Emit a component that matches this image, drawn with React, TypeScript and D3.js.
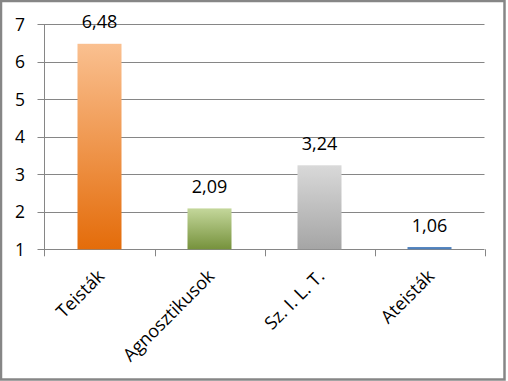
import React from "react";
import * as d3 from "d3";

const categories = ["Teisták", "Agnosztikusok", "Sz. I. L. T.", "Ateisták"];
const values = [6.48, 2.09, 3.24, 1.06];
const valueLabels = ["6,48", "2,09", "3,24", "1,06"];
const yTicks = [1, 2, 3, 4, 5, 6, 7];
const gradients = [
  ["#FAC090", "#E46C0A"],
  ["#C4D79B", "#76923C"],
  ["#D9D9D9", "#A5A5A5"],
  ["#4F81BD", "#4F81BD"],
];

const W = 508;
const H = 381;
const FONT = "'Open Sans', 'Noto Sans', sans-serif";

export default function App() {
  const left = 44.5;
  const right = 484.5;
  const top = 24.3;
  const bottom = 249.3;
  const x = d3.scaleBand<string>().domain(categories).range([left, right]).paddingInner(0.6).paddingOuter(0.3);
  const xb = d3.scaleBand<string>().domain(categories).range([left, right]);
  const y = d3.scaleLinear().domain([1, 7]).range([bottom, top]);

  return (
    <svg width={W} height={H} style={{ position: "absolute", left: 0, top: 0 }} fontFamily={FONT}>
      <defs>
        {gradients.map((g, i) => (
          <linearGradient key={i} id={`g${i}`} x1="0" y1="0" x2="0" y2="1">
            <stop offset="0%" stopColor={g[0]} />
            <stop offset="100%" stopColor={g[1]} />
          </linearGradient>
        ))}
      </defs>
      <rect x={0} y={0} width={W} height={H} fill="#fff" />
      <rect x={1} y={1} width={503.5} height={378.5} fill="none" stroke="#868686" strokeWidth={2.5} />
      {yTicks.map((t) => (
        <g key={t}>
          <line x1={left - 7} x2={right} y1={Math.round(y(t)) + 0.5} y2={Math.round(y(t)) + 0.5} stroke="#868686" strokeWidth={1} />
          <text x={25} y={y(t)} dy="0.36em" textAnchor="end" fontSize={17.5} fill="#000">
            {t}
          </text>
        </g>
      ))}
      <line x1={left} x2={left} y1={top} y2={bottom + 7} stroke="#868686" strokeWidth={1} />
      {categories.map((c) => (
        <line key={c} x1={Math.round((xb(c) as number) + xb.bandwidth()) + 0.5} x2={Math.round((xb(c) as number) + xb.bandwidth()) + 0.5} y1={bottom} y2={bottom + 7} stroke="#868686" strokeWidth={1} />
      ))}
      {categories.map((c, i) => (
        <rect key={c} x={x(c)} width={x.bandwidth()} y={y(values[i])} height={y(1) - y(values[i])} fill={`url(#g${i})`} />
      ))}
      {categories.map((c, i) => (
        <text key={c} x={(x(c) as number) + x.bandwidth() / 2} y={y(values[i]) - 15.5} textAnchor="middle" fontSize={18} fill="#000">
          {valueLabels[i]}
        </text>
      ))}
      {categories.map((c) => {
        const cx = (xb(c) as number) + xb.bandwidth() / 2;
        return (
          <text key={c} transform={`translate(${cx + 6},${bottom + 28}) rotate(-45)`} textAnchor="end" fontSize={18} fill="#000">
            {c}
          </text>
        );
      })}
    </svg>
  );
}
